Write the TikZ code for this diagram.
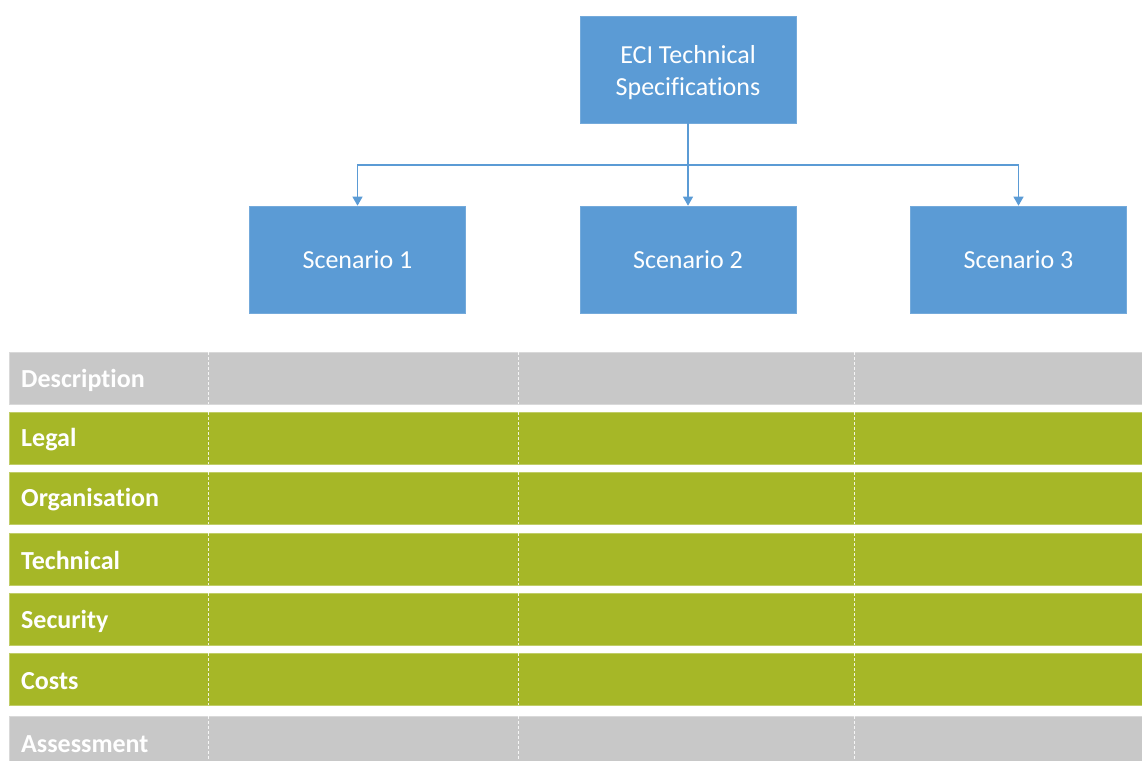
\documentclass[tikz,border=0pt]{standalone}
\usepackage{fontspec}
\setmainfont{Carlito}[Ligatures=NoCommon]
\usetikzlibrary{arrows.meta}
\definecolor{boxblue}{HTML}{5B9BD5}
\definecolor{linkblue}{HTML}{5B9BD5}
\definecolor{rowgrey}{HTML}{C8C8C8}
\definecolor{rowgreen}{HTML}{A6B727}
\tikzset{
  bluebox/.style={rectangle, fill=boxblue, draw=boxblue!85!white, line width=0.6pt,
    minimum width=216pt, minimum height=107pt, inner sep=0pt, text=white,
    font=\fontsize{26}{32}\selectfont, align=center},
  link/.style={draw=linkblue, line width=1.2pt, -{Triangle[width=10pt,length=9pt]}},
  rowbar/.style={rectangle, anchor=north west, minimum width=1133pt, minimum height=52pt,
    inner sep=0pt, line width=0.6pt},
  greyrow/.style={rowbar, fill=rowgrey, draw=rowgrey!70!white},
  greenrow/.style={rowbar, fill=rowgreen, draw=rowgreen!70!white},
  rowlabel/.style={anchor=west, inner sep=0pt, text=white, font=\bfseries\fontsize{26}{30}\selectfont},
  sep/.style={draw=white, line width=0.8pt, dash pattern=on 3pt off 2pt, opacity=0.85}
}
\begin{document}
\begin{tikzpicture}[x=1pt,y=-1pt]
\useasboundingbox (0,0) rectangle (1142,760);
\begin{scope}
\clip (0,0) rectangle (1142,760);
% top hierarchy
\node[bluebox] (top) at (688,69.5) {\raisebox{-3pt}[\height][\depth]{\parbox{200pt}{\centering ECI Technical\\Specifications}}};
\node[bluebox] (s1) at (357.5,259.5) {Scenario 1};
\node[bluebox] (s2) at (688,259.5) {Scenario 2};
\node[bluebox] (s3) at (1018.5,259.5) {Scenario 3};
\coordinate (j) at (688,165);
\draw[link] (top.south) -- (s2.north);
\draw[link] (j) -| (s1.north);
\draw[link] (j) -| (s3.north);
% rows
\node[greyrow]  (r1) at (9,352) {};
\node[greenrow] (r2) at (9,412) {};
\node[greenrow] (r3) at (9,472) {};
\node[greenrow] (r4) at (9,533) {};
\node[greenrow] (r5) at (9,593) {};
\node[greenrow] (r6) at (9,653) {};
\node[greyrow]  (r7) at (9,716) {};
\node[rowlabel] (l1) at (21,380) {Description};
\node[rowlabel] (l2) at (21,440) {Legal};
\node[rowlabel] (l3) at (21,500) {Organisation};
\node[rowlabel] (l4) at (21,560) {Technical};
\node[rowlabel] (l5) at (21,621) {Security};
\node[rowlabel] (l6) at (21,681) {Costs};
\node[rowlabel] (l7) at (21,744) {Assessment};
\foreach \x in {208,518,854}{
  \draw[sep] (\x,352) -- (\x,404);
  \draw[sep] (\x,412) -- (\x,464);
  \draw[sep] (\x,472) -- (\x,524);
  \draw[sep] (\x,533) -- (\x,585);
  \draw[sep] (\x,593) -- (\x,645);
  \draw[sep] (\x,653) -- (\x,705);
  \draw[sep] (\x,716) -- (\x,768);
}
\end{scope}
\end{tikzpicture}
\end{document}
